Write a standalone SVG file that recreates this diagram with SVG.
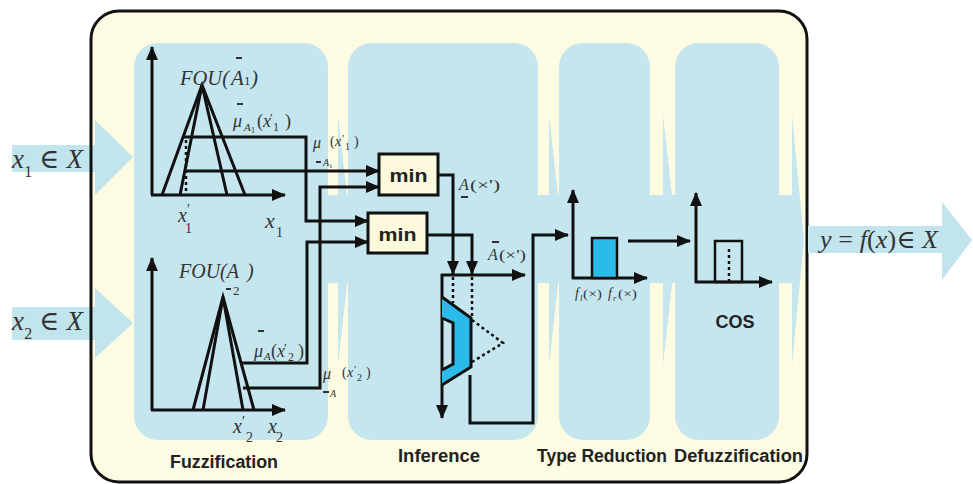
<svg xmlns="http://www.w3.org/2000/svg" width="973" height="484" viewBox="0 0 973 484">
<defs>
<marker id="ah" markerWidth="14" markerHeight="12" refX="13" refY="6" orient="auto" markerUnits="userSpaceOnUse"><path d="M0,0 L14,6 L0,12 z" fill="#111"/></marker>
<style>
.ln{stroke:#111;stroke-width:3;fill:none}
.dot{stroke:#111;stroke-width:2.5;stroke-dasharray:3 3;fill:none}
.bar{stroke:#333;stroke-width:2}
.panel{fill:#c5e6ee}
.band{fill:#c5e6ee}
.io{fill:#c2e4ed}
.m{font-family:"Liberation Serif","DejaVu Serif",serif;font-style:italic;fill:#333}
.n{font-style:normal}
.lbl{font-family:"Liberation Sans",Arial,sans-serif;font-weight:bold;font-size:18px;fill:#222}
.box{fill:#fcf9dd;stroke:#111;stroke-width:3}
.cyan{fill:#2bbbe9}
</style>
</defs>
<rect width="973" height="484" fill="#ffffff"/>
<g id="frame-bg">
<rect x="91" y="11" width="716" height="471" rx="28" fill="#fdfbe2"/>
</g>
<g id="flow-band">
<rect class="band" x="134" y="195" width="662" height="88"/>
<polygon class="band" points="338,115 338,365 352,240"/>
<polygon class="band" points="549,115 549,365 563,240"/>
<polygon class="band" points="663,115 663,365 677,240"/>
<polygon class="band" points="792,115 792,365 804,240"/>
</g>
<g id="panel-fuzzification"><rect class="panel" x="134" y="43" width="194" height="397" rx="24"/></g>
<g id="panel-inference"><rect class="panel" x="348" y="43" width="190" height="397" rx="24"/></g>
<g id="panel-type-reduction"><rect class="panel" x="559" y="43" width="91" height="397" rx="24"/></g>
<g id="panel-defuzzification"><rect class="panel" x="675" y="43" width="104" height="397" rx="24"/></g>
<g id="input-x1">
<polygon class="io" points="12,145 95,145 95,120 133,157 95,195 95,172 12,172"/>
<text class="m" font-size="27" x="12" y="168" textLength="71" lengthAdjust="spacing">x<tspan class="n" font-size="16" dy="9">1</tspan><tspan class="n" dy="-9"> ∈ </tspan>X</text>
</g>
<g id="input-x2">
<polygon class="io" points="12,307 95,307 95,288 133,323 95,358 95,340 12,340"/>
<text class="m" font-size="27" x="12" y="330" textLength="71" lengthAdjust="spacing">x<tspan class="n" font-size="16" dy="9">2</tspan><tspan class="n" dy="-9"> ∈ </tspan>X</text>
</g>
<g id="frame-border">
<rect x="91" y="11" width="716" height="471" rx="28" fill="none" stroke="#111" stroke-width="3"/>
</g>
<g id="output-y">
<polygon class="io" points="808,226 942,226 942,202 972,240 942,280 942,253 808,253"/>
<text class="m" font-size="26" x="820" y="248" textLength="118" lengthAdjust="spacing">y<tspan class="n"> = </tspan>f<tspan class="n">(</tspan>x<tspan class="n">)∈ </tspan>X</text>
</g>

<g id="fuzzifier-1">
<line class="ln" x1="152" y1="195" x2="152" y2="47" marker-end="url(#ah)"/>
<line class="ln" x1="151" y1="195" x2="285" y2="195" marker-end="url(#ah)"/>
<polyline class="ln" points="162,195 202,85 245,195"/>
<polyline class="ln" points="180,195 202,85 227,195"/>
<line class="dot" x1="186" y1="140" x2="186" y2="194"/>
<text class="m" font-size="21" y="85"><tspan x="180" textLength="49" lengthAdjust="spacingAndGlyphs">FOU(</tspan><tspan x="231">A</tspan><tspan class="n" x="244" font-size="13">1</tspan><tspan x="251">)</tspan></text>
<line class="bar" x1="236" y1="58" x2="242" y2="58"/>
<line class="bar" x1="237" y1="104" x2="243" y2="104"/>
<text class="m" font-size="18" y="127"><tspan x="233">μ</tspan><tspan x="244" y="131" font-size="11">A</tspan><tspan class="n" x="251" y="133" font-size="8">1</tspan><tspan class="n" x="257" y="127">(</tspan><tspan x="263" y="127">x</tspan><tspan class="n" x="270" y="122" font-size="13">′</tspan><tspan class="n" x="273" y="131" font-size="12">1</tspan><tspan class="n" x="285" y="127">)</tspan></text>
<text class="m" font-size="20"><tspan x="178" y="222">x</tspan><tspan class="n" x="187" y="214" font-size="14">′</tspan><tspan class="n" x="185" y="233" font-size="14">1</tspan></text>
<text class="m" font-size="22"><tspan x="265" y="228">x</tspan><tspan class="n" x="276" y="237" font-size="14">1</tspan></text>
<text class="m" font-size="16"><tspan x="313" y="148">μ</tspan><tspan class="n" x="330" y="146" font-size="14">(</tspan><tspan x="335" y="146" font-size="14">x</tspan><tspan class="n" x="342" y="142" font-size="11">′</tspan><tspan class="n" x="345" y="150" font-size="10">1</tspan><tspan class="n" x="354" y="146" font-size="14">)</tspan><tspan x="323" y="166" font-size="10">A</tspan><tspan class="n" x="329" y="168" font-size="7">1</tspan></text>
<line class="bar" x1="316" y1="162" x2="321" y2="162"/>
</g>

<g id="fuzzifier-2">
<line class="ln" x1="152" y1="410" x2="152" y2="258" marker-end="url(#ah)"/>
<line class="ln" x1="151" y1="410" x2="285" y2="410" marker-end="url(#ah)"/>
<polyline class="ln" points="193,410 223,297 254,410"/>
<polyline class="ln" points="203,410 223,297 243,410"/>
<text class="m" font-size="20" x="179" y="278">FOU(A<tspan dx="8">)</tspan></text>
<text class="m n" font-size="13" x="233" y="295">2</text>
<line class="bar" x1="226" y1="289" x2="231" y2="289"/>
<line class="bar" x1="258" y1="331" x2="264" y2="331"/>
<text class="m" font-size="18" y="357"><tspan x="254">μ</tspan><tspan x="264" y="360" font-size="11">A</tspan><tspan class="n" x="271" y="357">(</tspan><tspan x="277" y="357">x</tspan><tspan class="n" x="284" y="352" font-size="13">′</tspan><tspan class="n" x="288" y="361" font-size="12">2</tspan><tspan class="n" x="298" y="357">)</tspan></text>
<text class="m" font-size="20"><tspan x="233" y="433">x</tspan><tspan class="n" x="242" y="426" font-size="14">′</tspan><tspan class="n" x="246" y="442" font-size="14">2</tspan><tspan x="268" y="433">x</tspan><tspan class="n" x="276" y="442" font-size="14">2</tspan></text>
<text class="m" font-size="16"><tspan x="323" y="379">μ</tspan><tspan class="n" x="342" y="377" font-size="14">(</tspan><tspan x="347" y="377" font-size="14">x</tspan><tspan class="n" x="354" y="373" font-size="11">′</tspan><tspan class="n" x="357" y="381" font-size="10">2</tspan><tspan class="n" x="366" y="377" font-size="14">)</tspan><tspan x="330" y="397" font-size="10">A</tspan></text>
<line class="bar" x1="323" y1="392" x2="329" y2="392"/>
</g>

<g id="min1">
<rect class="box" x="379" y="154" width="59" height="41"/>
<text class="lbl" x="408.5" y="182" font-size="22" text-anchor="middle" textLength="38" lengthAdjust="spacingAndGlyphs">min</text>
</g>
<g id="min2">
<rect class="box" x="368" y="213" width="59" height="40"/>
<text class="lbl" x="397.5" y="241" font-size="22" text-anchor="middle" textLength="38" lengthAdjust="spacingAndGlyphs">min</text>
</g>

<g id="inference-output">
<line class="ln" x1="442" y1="274" x2="442" y2="418" marker-end="url(#ah)"/>
<line class="ln" x1="441" y1="275" x2="525" y2="275" marker-end="url(#ah)"/>
<path class="cyan" d="M442,297 L471,318 L471,367 L442,385 Z M442,318 L453,323 L453,364 L442,370 Z" fill-rule="evenodd"/>
<polyline class="ln" points="442,297 471,318 471,367 442,385"/>
<polyline class="ln" points="442,318 453,323 453,364 442,370"/>
<line class="dot" x1="453" y1="277" x2="453" y2="303"/>
<line class="dot" x1="472" y1="277" x2="472" y2="317"/>
<polyline class="dot" points="472,320 503,343 472,362"/>
<text class="m" font-size="16" y="190"><tspan x="459">A</tspan><tspan class="n" x="470" font-size="15" textLength="30" lengthAdjust="spacingAndGlyphs">(×')</tspan></text>
<line class="bar" x1="461" y1="197" x2="468" y2="197"/>
<text class="m" font-size="16" y="260"><tspan x="488">A</tspan><tspan class="n" x="499" font-size="15" textLength="27" lengthAdjust="spacingAndGlyphs">(×')</tspan></text>
<line class="bar" x1="492" y1="242" x2="499" y2="242"/>
</g>

<g id="type-reduced-set">
<line class="ln" x1="573" y1="279" x2="573" y2="190" marker-end="url(#ah)"/>
<line class="ln" x1="572" y1="278" x2="647" y2="278" marker-end="url(#ah)"/>
<rect class="cyan" x="592" y="238" width="25" height="40" stroke="#111" stroke-width="2.5"/>
<text class="m" font-size="14" y="298"><tspan x="575">f</tspan><tspan x="580" y="301" font-size="9">l</tspan><tspan class="n" x="583" y="298" font-size="13" textLength="19" lengthAdjust="spacingAndGlyphs">(×)</tspan><tspan x="608" y="298">f</tspan><tspan x="613" y="301" font-size="9">r</tspan><tspan class="n" x="618" y="298" font-size="13" textLength="19" lengthAdjust="spacingAndGlyphs">(×)</tspan></text>
</g>

<g id="defuzzified-output">
<line class="ln" x1="696" y1="283" x2="696" y2="193" marker-end="url(#ah)"/>
<line class="ln" x1="695" y1="282" x2="772" y2="282" marker-end="url(#ah)"/>
<rect x="715" y="241" width="27" height="41" fill="none" stroke="#111" stroke-width="2.5"/>
<line class="dot" x1="729" y1="249" x2="729" y2="281"/>
<text class="lbl" x="735" y="328" font-size="17" text-anchor="middle">COS</text>
</g>

<g id="connectors">
<path class="ln" d="M185,171 H379" marker-end="url(#ah)"/>
<path class="ln" d="M183,137 H306 V221 H368" marker-end="url(#ah)"/>
<path class="ln" d="M241,363 H307 V242 H368" marker-end="url(#ah)"/>
<path class="ln" d="M243,388 H320 V187 H379" marker-end="url(#ah)"/>
<path class="ln" d="M438,175 H453 V274" marker-end="url(#ah)"/>
<path class="ln" d="M427,235 H472 V274" marker-end="url(#ah)"/>
<path class="ln" d="M470,375 V423 H533 V235 H568" marker-end="url(#ah)"/>
<path class="ln" d="M628,241 H690" marker-end="url(#ah)"/>
</g>

<g id="stage-labels">
<text class="lbl" x="170" y="468" textLength="108" lengthAdjust="spacingAndGlyphs">Fuzzification</text>
<text class="lbl" x="398" y="462" textLength="82" lengthAdjust="spacingAndGlyphs">Inference</text>
<text class="lbl" x="537" y="462" textLength="130" lengthAdjust="spacingAndGlyphs">Type Reduction</text>
<text class="lbl" x="674" y="462" textLength="129" lengthAdjust="spacingAndGlyphs">Defuzzification</text>
</g>
</svg>
